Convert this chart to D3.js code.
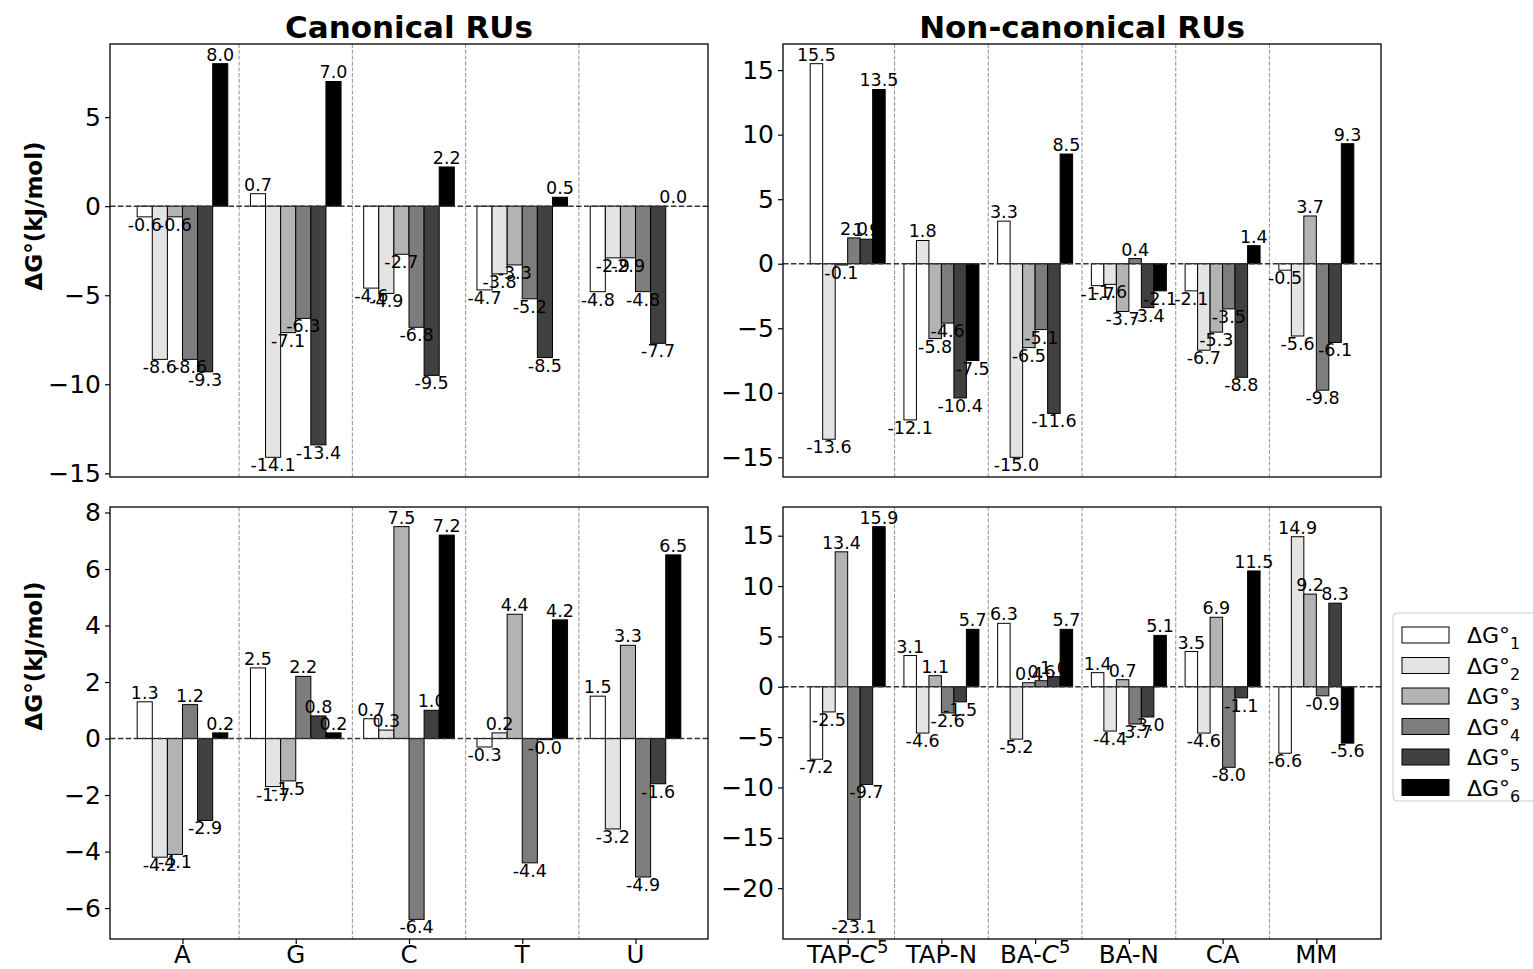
<!DOCTYPE html>
<html>
<head>
<meta charset="utf-8">
<script src="https://cdn.jsdelivr.net/npm/d3@7"></script>
<style>
  body { margin: 0; background: #fff; }
  text { font-family: "DejaVu Sans", sans-serif; fill: #000; }
</style>
</head>
<body>
<svg id="chart" width="1533" height="969"></svg>
<script>
// ---- data -------------------------------------------------------------
const canonicalCats = ["A", "G", "C", "T", "U"];
const noncanonicalCats = ["TAP-C5", "TAP-N", "BA-C5", "BA-N", "CA", "MM"];
const seriesSubs = ["1", "2", "3", "4", "5", "6"];
const seriesColors = ["#ffffff", "#e4e4e4", "#b3b3b3", "#7d7d7d", "#404040", "#000000"];

// rows = categories, columns = ΔG°1 … ΔG°6 (kJ/mol)
const canonicalTop = [
  [-0.6, -8.6, -0.6, -8.6, -9.3, 8.0],
  [0.7, -14.1, -7.1, -6.3, -13.4, 7.0],
  [-4.6, -4.9, -2.7, -6.8, -9.5, 2.2],
  [-4.7, -3.8, -3.3, -5.2, -8.5, 0.5],
  [-4.8, -2.9, -2.9, -4.8, -7.7, 0.0]
];
const noncanonicalTop = [
  [15.5, -13.6, -0.1, 2.0, 1.9, 13.5],
  [-12.1, 1.8, -5.8, -4.6, -10.4, -7.5],
  [3.3, -15.0, -6.5, -5.1, -11.6, 8.5],
  [-1.7, -1.6, -3.7, 0.4, -3.4, -2.1],
  [-2.1, -6.7, -5.3, -3.5, -8.8, 1.4],
  [-0.5, -5.6, 3.7, -9.8, -6.1, 9.3]
];
const canonicalBottom = [
  [1.3, -4.2, -4.1, 1.2, -2.9, 0.2],
  [2.5, -1.7, -1.5, 2.2, 0.8, 0.2],
  [0.7, 0.3, 7.5, -6.4, 1.0, 7.2],
  [-0.3, 0.2, 4.4, -4.4, -0.04, 4.2],
  [1.5, -3.2, 3.3, -4.9, -1.6, 6.5]
];
const noncanonicalBottom = [
  [-7.2, -2.5, 13.4, -23.1, -9.7, 15.9],
  [3.1, -4.6, 1.1, -2.6, -1.5, 5.7],
  [6.3, -5.2, 0.4, 0.6, 1.0, 5.7],
  [1.4, -4.4, 0.7, -3.7, -3.0, 5.1],
  [3.5, -4.6, 6.9, -8.0, -1.1, 11.5],
  [-6.6, 14.9, 9.2, -0.9, 8.3, -5.6]
];

const ticksCanonicalTop = [-15, -10, -5, 0, 5];
const ticksNoncanonicalTop = [-15, -10, -5, 0, 5, 10, 15];
const ticksCanonicalBottom = [-6, -4, -2, 0, 2, 4, 6, 8];
const ticksNoncanonicalBottom = [-20, -15, -10, -5, 0, 5, 10, 15];

// ---- drawing -----------------------------------------------------------
const svg = d3.select("#chart");
const fmtTick = v => (v < 0 ? "\u2212" + Math.abs(v) : String(v));
const nSeries = seriesColors.length;
const groupWidth = 0.8;
const barW = groupWidth / nSeries;

function drawPanel(cfg) {
  const { left, top, width, height, cats, values, ticks, showX, ylabelY } = cfg;
  const g = svg.append("g").attr("transform", `translate(${left},${top})`);
  const n = cats.length;

  // x: category index space with 5% margins around the bar extent
  const xMin = -groupWidth / 2, xMax = n - 1 + groupWidth / 2;
  const xPad = 0.05 * (xMax - xMin);
  const x = d3.scaleLinear().domain([xMin - xPad, xMax + xPad]).range([0, width]);

  const flat = values.flat();
  const lo = Math.min(0, d3.min(flat)), hi = Math.max(0, d3.max(flat));
  const yPad = 0.05 * (hi - lo);
  const y = d3.scaleLinear().domain([lo - yPad, hi + yPad]).range([height, 0]);

  // category separators
  g.selectAll(".sep").data(d3.range(n - 1)).join("line")
    .attr("x1", i => x(i + 0.5)).attr("x2", i => x(i + 0.5))
    .attr("y1", 0).attr("y2", height)
    .attr("stroke", "#9a9a9a").attr("stroke-width", 1.1)
    .attr("stroke-dasharray", "4,1.8");

  // bars
  const rows = [];
  values.forEach((row, i) => row.forEach((v, j) => rows.push({ i, j, v })));
  const bw = x(barW) - x(0);
  const barX = d => x(d.i - groupWidth / 2 + d.j * barW);
  g.selectAll(".bar").data(rows).join("rect")
    .attr("x", barX)
    .attr("width", bw)
    .attr("y", d => y(Math.max(0, d.v)))
    .attr("height", d => Math.abs(y(d.v) - y(0)))
    .attr("fill", d => seriesColors[d.j])
    .attr("stroke", "#000").attr("stroke-width", 1);

  // zero line
  g.append("line")
    .attr("x1", 0).attr("x2", width).attr("y1", y(0)).attr("y2", y(0))
    .attr("stroke", "#333").attr("stroke-width", 1.5)
    .attr("stroke-dasharray", "5.5,2.4");

  // value labels
  g.selectAll(".val").data(rows).join("text")
    .attr("x", d => barX(d) + bw / 2)
    .attr("y", d => d.v < 0 ? y(d.v) + 14 : y(d.v) - 3)
    .attr("text-anchor", "middle")
    .attr("font-size", 17.5)
    .text(d => d.v.toFixed(1));

  // y axis
  const yAxis = g.append("g").call(
    d3.axisLeft(y).tickValues(ticks).tickFormat(fmtTick).tickSize(5).tickPadding(4)
  );
  yAxis.select(".domain").remove();
  yAxis.selectAll("text").attr("font-size", 25).style("font-family", '"DejaVu Sans", sans-serif');
  yAxis.selectAll("line").attr("stroke", "#000").attr("stroke-width", 1.2);

  // x axis (bottom row only)
  if (showX) {
    const xAxis = g.append("g").attr("transform", `translate(0,${height})`).call(
      d3.axisBottom(x).tickValues(d3.range(n)).tickFormat(() => "").tickSize(5)
    );
    xAxis.select(".domain").remove();
    xAxis.selectAll("line").attr("stroke", "#000").attr("stroke-width", 1.2);
    cats.forEach((c, i) => {
      const t = g.append("text")
        .attr("x", x(i)).attr("y", height + 24)
        .attr("text-anchor", "middle").attr("font-size", 24.5);
      const m = c.match(/^(.*-)C5$/);
      if (m) {
        t.append("tspan").text(m[1]);
        t.append("tspan").attr("font-style", "italic").text("C");
        t.append("tspan").attr("font-size", 18).attr("dy", -10).text("5");
      } else {
        t.text(c);
      }
    });
  }

  // frame
  g.append("rect").attr("width", width).attr("height", height)
    .attr("fill", "none").attr("stroke", "#000").attr("stroke-width", 1.3);

  if (ylabelY) {
    svg.append("text")
      .attr("transform", `translate(42,${ylabelY}) rotate(-90)`)
      .attr("text-anchor", "middle")
      .attr("font-size", 23).attr("font-weight", "bold")
      .text("ΔG°(kJ/mol)");
  }
}

const W = 598, H = 433;
const colL = 110, colR = 783, rowT = 44, rowB = 507;

drawPanel({ left: colL, top: rowT, width: W, height: H, cats: canonicalCats,
  values: canonicalTop, ticks: ticksCanonicalTop, showX: false, ylabelY: 216 });
drawPanel({ left: colR, top: rowT, width: W, height: H, cats: noncanonicalCats,
  values: noncanonicalTop, ticks: ticksNoncanonicalTop, showX: false });
drawPanel({ left: colL, top: rowB, width: W, height: 432, cats: canonicalCats,
  values: canonicalBottom, ticks: ticksCanonicalBottom, showX: true, ylabelY: 656 });
drawPanel({ left: colR, top: rowB, width: W, height: 432, cats: noncanonicalCats,
  values: noncanonicalBottom, ticks: ticksNoncanonicalBottom, showX: true });

// column titles
svg.append("text").attr("x", colL + W / 2).attr("y", 38)
  .attr("text-anchor", "middle").attr("font-size", 31).attr("font-weight", "bold")
  .text("Canonical RUs");
svg.append("text").attr("x", colR + W / 2).attr("y", 38)
  .attr("text-anchor", "middle").attr("font-size", 31).attr("font-weight", "bold")
  .text("Non-canonical RUs");

// legend
const leg = svg.append("g").attr("transform", "translate(1393,613)");
leg.append("rect").attr("width", 160).attr("height", 188).attr("rx", 4)
  .attr("fill", "#fff").attr("stroke", "#cccccc").attr("stroke-width", 1);
const rowStep = 30.5;
seriesColors.forEach((c, k) => {
  const cy = 22 + k * rowStep;
  leg.append("rect").attr("x", 9).attr("y", cy - 8).attr("width", 47).attr("height", 16)
    .attr("fill", c).attr("stroke", "#000").attr("stroke-width", 1);
  const t = leg.append("text").attr("x", 74).attr("y", cy + 8).attr("font-size", 22);
  t.append("tspan").text("ΔG°");
  t.append("tspan").attr("font-size", 16).attr("dy", 6).text(seriesSubs[k]);
});
</script>
</body>
</html>
